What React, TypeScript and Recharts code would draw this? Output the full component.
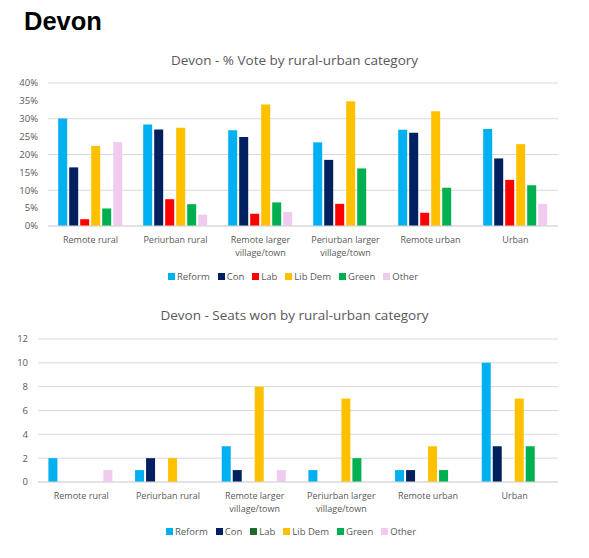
import React from "react";
import { BarChart, Bar, XAxis, YAxis, CartesianGrid, Legend } from "recharts";

const categories = [
  "Remote rural",
  "Periurban rural",
  "Remote larger village/town",
  "Periurban larger village/town",
  "Remote urban",
  "Urban",
];

const parties = ["Reform", "Con", "Lab", "Lib Dem", "Green", "Other"];

// % vote per party, one value per category
const voteReform = [30.1, 28.4, 26.8, 23.4, 26.9, 27.1];
const voteCon = [16.4, 27.0, 24.9, 18.5, 26.1, 18.9];
const voteLab = [1.9, 7.5, 3.4, 6.2, 3.7, 12.9];
const voteLibDem = [22.4, 27.5, 34.0, 34.9, 32.1, 22.9];
const voteGreen = [4.9, 6.1, 6.6, 16.1, 10.7, 11.4];
const voteOther = [23.5, 3.2, 3.9, 0, 0, 6.2];

// seats won per party, one value per category
const seatsReform = [2, 1, 3, 1, 1, 10];
const seatsCon = [0, 2, 1, 0, 1, 3];
const seatsLab = [0, 0, 0, 0, 0, 0];
const seatsLibDem = [0, 2, 8, 7, 3, 7];
const seatsGreen = [0, 0, 0, 2, 1, 3];
const seatsOther = [1, 0, 1, 0, 0, 0];

const voteTicks = [0, 5, 10, 15, 20, 25, 30, 35, 40];
const seatTicks = [0, 2, 4, 6, 8, 10, 12];

const voteColors = ["#00B0F0", "#002060", "#FF0000", "#FFC000", "#00B050", "#F1CBEF"];
const seatColors = ["#00B0F0", "#002060", "#1E6B2C", "#FFC000", "#00B050", "#F1CBEF"];

const FONT = "'Open Sans', sans-serif";
const GREY = "#595959";

const buildRows = (series: number[][]) =>
  categories.map((name, i) => {
    const row: Record<string, string | number> = { name };
    parties.forEach((p, j) => {
      row[p] = series[j][i];
    });
    return row;
  });

const voteData = buildRows([voteReform, voteCon, voteLab, voteLibDem, voteGreen, voteOther]);
const seatData = buildRows([seatsReform, seatsCon, seatsLab, seatsLibDem, seatsGreen, seatsOther]);

// split long category names over two lines like the original
const wrap = (label: string) => {
  const lines: string[] = [];
  let cur = "";
  label.split(" ").forEach((w) => {
    const next = cur ? cur + " " + w : w;
    if (next.length > 16 && cur) {
      lines.push(cur);
      cur = w;
    } else cur = next;
  });
  lines.push(cur);
  return lines;
};

const CategoryTick = (props: any) => {
  const { x, y, payload } = props;
  const lines = wrap(String(payload.value));
  return (
    <text x={x} y={y} textAnchor="middle" fill={GREY} fontSize={9} fontFamily={FONT}>
      {lines.map((l, i) => (
        <tspan key={i} x={x} dy={i === 0 ? 9 : 12.5}>
          {l}
        </tspan>
      ))}
    </text>
  );
};

const PartyLegend = ({ colors }: { colors: string[] }) => (
  <div
    style={{
      height: 20,
      display: "flex",
      justifyContent: "center",
      alignItems: "center",
      gap: 8,
      fontFamily: FONT,
      fontSize: 9.5,
      color: GREY,
    }}
  >
    {parties.map((p, i) => (
      <span key={p} style={{ display: "flex", alignItems: "center", gap: 2 }}>
        <span style={{ width: 7, height: 7, background: colors[i], display: "inline-block" }} />
        {p}
      </span>
    ))}
  </div>
);

interface PanelProps {
  title: string;
  titleTop: number;
  chartTop: number;
  data: Record<string, string | number>[];
  colors: string[];
  ticks: number[];
  yWidth: number;
  marginTop: number;
  axisHeight: number;
  percent?: boolean;
  legendShift: number;
}

function Panel(p: PanelProps) {
  return (
    <>
      <div
        style={{
          position: "absolute",
          top: p.titleTop,
          left: 0,
          width: 589,
          textAlign: "center",
          fontFamily: FONT,
          fontSize: 13.5,
          lineHeight: "16px",
          color: GREY,
        }}
      >
        {p.title}
      </div>
      <div style={{ position: "absolute", top: p.chartTop, left: 0 }}>
        <BarChart
          width={589}
          height={215}
          data={p.data}
          margin={{ top: p.marginTop, right: 31, bottom: 4, left: 0 }}
          barCategoryGap="12%"
          barGap={2}
        >
          <CartesianGrid vertical={false} stroke="#D9D9D9" />
          <XAxis
            dataKey="name"
            tick={<CategoryTick />}
            tickLine={false}
            axisLine={{ stroke: "#D9D9D9" }}
            height={p.axisHeight}
            interval={0}
          />
          <YAxis
            width={p.yWidth}
            domain={[0, p.ticks[p.ticks.length - 1]]}
            ticks={p.ticks}
            tickFormatter={(v: number) => (p.percent ? `${v}%` : `${v}`)}
            tick={{ fill: GREY, fontSize: 9.5, fontFamily: FONT }}
            tickLine={false}
            tickSize={0}
            tickMargin={10}
            axisLine={false}
          />
          <Legend
            verticalAlign="bottom"
            wrapperStyle={{ left: p.legendShift }}
            content={() => <PartyLegend colors={p.colors} />}
          />
          {parties.map((party, i) => (
            <Bar key={party} dataKey={party} fill={p.colors[i]} isAnimationActive={false} />
          ))}
        </BarChart>
      </div>
    </>
  );
}

export default function App() {
  return (
    <div
      style={{
        position: "absolute",
        top: 0,
        left: 0,
        width: 589,
        height: 558,
        background: "#ffffff",
        overflow: "hidden",
      }}
    >
      <div
        style={{
          position: "absolute",
          top: 6,
          left: 24,
          fontFamily: "'Liberation Sans', Arial, sans-serif",
          fontWeight: 700,
          fontSize: 25.5,
          lineHeight: "30px",
          color: "#000",
        }}
      >
        Devon
      </div>
      <Panel
        title="Devon - % Vote by rural-urban category"
        titleTop={52}
        chartTop={75}
        data={voteData}
        colors={voteColors}
        ticks={voteTicks}
        yWidth={48}
        marginTop={8}
        axisHeight={40}
        percent
        legendShift={14}
      />
      <Panel
        title="Devon - Seats won by rural-urban category"
        titleTop={307}
        chartTop={330}
        data={seatData}
        colors={seatColors}
        ticks={seatTicks}
        yWidth={38}
        marginTop={9}
        axisHeight={39}
        legendShift={12}
      />
    </div>
  );
}
